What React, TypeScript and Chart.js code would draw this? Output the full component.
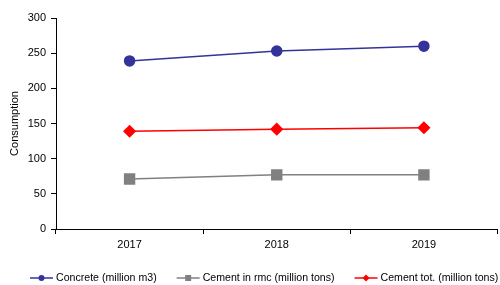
import React, { useEffect, useRef } from "react";
import { Chart, registerables } from "chart.js";

Chart.register(...registerables);

const categories = ["2017", "2018", "2019"];
const concrete = [239, 253, 260];
const cementRmc = [71, 77, 77];
const cementTot = [139, 142, 144];
const seriesNames = ["Concrete (million m3)", "Cement in rmc (million tons)", "Cement tot. (million tons)"];
const yTitle = "Consumption";

const legendPlugin = {
  id: "customLegend",
  afterDraw(chart: any) {
    const ctx = chart.ctx as CanvasRenderingContext2D;
    const ds = chart.data.datasets;
    ctx.save();
    ctx.font = "10.6px 'Liberation Sans', Arial, sans-serif";
    ctx.textBaseline = "middle";
    const lineW = 23;
    const gapText = 3;
    const gapItem = 20;
    const widths = ds.map((d: any) => ctx.measureText(d.label).width);
    let x = 30;
    const y = 278;
    ds.forEach((d: any, i: number) => {
      ctx.strokeStyle = d.borderColor;
      ctx.lineWidth = 1.5;
      ctx.beginPath();
      ctx.moveTo(x, y);
      ctx.lineTo(x + lineW, y);
      ctx.stroke();
      ctx.fillStyle = d.pointBackgroundColor;
      const cx = x + lineW / 2;
      ctx.beginPath();
      if (d.pointStyle === "circle") {
        ctx.arc(cx, y, 3, 0, Math.PI * 2);
      } else if (d.pointStyle === "rect") {
        ctx.rect(cx - 3, y - 3, 6, 6);
      } else {
        ctx.moveTo(cx, y - 3.5);
        ctx.lineTo(cx + 3.5, y);
        ctx.lineTo(cx, y + 3.5);
        ctx.lineTo(cx - 3.5, y);
        ctx.closePath();
      }
      ctx.fill();
      ctx.fillStyle = "#000";
      ctx.textAlign = "left";
      ctx.fillText(d.label, x + lineW + gapText, y);
      x += lineW + gapText + widths[i] + gapItem;
    });
    ctx.restore();
  },
};

const CW = 506;

export default function App() {
  const ref = useRef<HTMLCanvasElement | null>(null);
  useEffect(() => {
    if (!ref.current) return;
    const tickFont = { family: "'Liberation Sans', Arial, sans-serif", size: 11 };
    const chart = new Chart(ref.current, {
      type: "line",
      data: {
        labels: categories,
        datasets: [
          {
            label: seriesNames[0],
            data: concrete,
            borderColor: "#333399",
            backgroundColor: "#333399",
            pointBackgroundColor: "#333399",
            pointBorderColor: "#333399",
            pointStyle: "circle",
            pointRadius: 5,
            borderWidth: 1.5,
          },
          {
            label: seriesNames[1],
            data: cementRmc,
            borderColor: "#808080",
            backgroundColor: "#808080",
            pointBackgroundColor: "#808080",
            pointBorderColor: "#808080",
            pointStyle: "rect",
            pointRadius: 7,
            borderWidth: 1.5,
          },
          {
            label: seriesNames[2],
            data: cementTot,
            borderColor: "#FF0000",
            backgroundColor: "#FF0000",
            pointBackgroundColor: "#FF0000",
            pointBorderColor: "#FF0000",
            pointStyle: "rectRot",
            pointRadius: 5.5,
            borderWidth: 1.5,
          },
        ],
      },
      options: {
        animation: false,
        responsive: false,
        maintainAspectRatio: false,
        layout: { padding: { top: 18, right: 0, bottom: 31, left: 0 } },
        plugins: { legend: { display: false }, tooltip: { enabled: false }, title: { display: false } },
        scales: {
          x: {
            type: "category",
            offset: true,
            grid: { offset: true, drawOnChartArea: false, drawTicks: true, tickLength: 5, color: "#000", lineWidth: 1 },
            border: { color: "#000", width: 1 },
            ticks: { color: "#000", font: tickFont, padding: 4, maxRotation: 0 },
            afterFit: (s: any) => { s.height = 25; },
          },
          y: {
            min: 0,
            max: 300,
            ticks: { stepSize: 50, color: "#000", font: tickFont, padding: 5 },
            grid: { drawOnChartArea: false, drawTicks: true, tickLength: 5, color: "#000", lineWidth: 1 },
            border: { color: "#000", width: 1 },
            title: { display: true, text: yTitle, color: "#000", font: tickFont, padding: { top: 8, bottom: 0 } },
            afterFit: (s: any) => { s.width = 56; },
          },
        },
      },
      plugins: [legendPlugin],
    });
    return () => chart.destroy();
  }, []);
  return (
    <div style={{ position: "fixed", left: 0, top: 0, width: 500, height: 285, background: "#fff", overflow: "hidden" }}>
      <canvas ref={ref} width={CW} height={285} style={{ width: CW, height: 285, display: "block" }} />
    </div>
  );
}
